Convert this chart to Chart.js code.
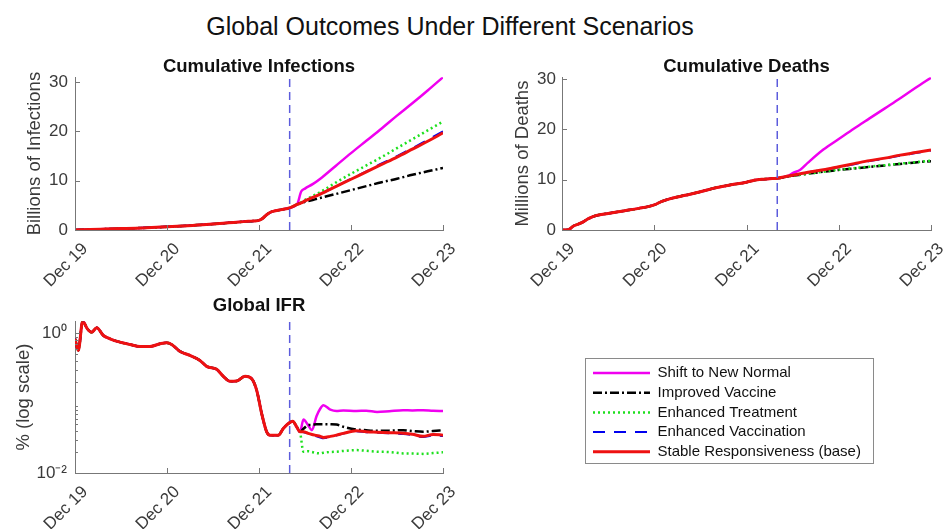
<!DOCTYPE html>
<html>
<head>
<meta charset="utf-8">
<title>Global Outcomes Under Different Scenarios</title>
<script src="https://cdn.jsdelivr.net/npm/chart.js@4.4.1/dist/chart.umd.min.js"></script>
<style>
  html, body { margin: 0; padding: 0; background: #ffffff; }
  body { width: 948px; height: 529px; position: relative; overflow: hidden;
         font-family: 'Liberation Sans', Arial, sans-serif; }
  #suptitle { position: absolute; left: 0; top: 14px; width: 900px; text-align: center;
              font-size: 25px; line-height: 25px; color: #111; }
  canvas { position: absolute; }
</style>
</head>
<body>
<div id="suptitle">Global Outcomes Under Different Scenarios</div>
<canvas id="infections" width="474" height="260" style="left:0;top:40px;width:474px;height:260px"></canvas>
<canvas id="deaths" width="468" height="260" style="left:480px;top:40px;width:468px;height:260px"></canvas>
<canvas id="ifr" width="474" height="249" style="left:0;top:280px;width:474px;height:249px"></canvas>
<canvas id="legend" width="290" height="130" style="left:585px;top:358px;width:290px;height:130px"></canvas>
<script>
// ---- time axis (months since Dec 2019) ----
const tickMonths = [0, 12, 24, 36, 48];
const tickLabels = ['Dec 19', 'Dec 20', 'Dec 21', 'Dec 22', 'Dec 23'];
const cutoverMonth = 28;

const scenarioNames = [
  'Shift to New Normal',
  'Improved Vaccine',
  'Enhanced Treatment',
  'Enhanced Vaccination',
  'Stable Responsiveness (base)'
];

// ---- cumulative infections (billions) ----
const infHistMonths = [0, 2, 4, 6, 8, 10, 12, 14, 16, 18, 20, 22, 23, 24, 24.5, 25, 25.5, 26, 26.5, 27, 27.5];
const infHist = [0, 0.08, 0.18, 0.28, 0.38, 0.5, 0.65, 0.8, 1.0, 1.2, 1.45, 1.7, 1.8, 1.95, 2.4, 3.1, 3.6, 3.85, 4.0, 4.15, 4.3];
const projMonths = [28, 29, 29.5, 30, 31, 32, 34, 36, 38, 40, 42, 44, 46, 48];
const infNewNormal = [4.5, 5.3, 7.8, 8.4, 9.3, 10.4, 13.0, 15.6, 18.1, 20.6, 23.2, 25.7, 28.3, 31.0];
const infImprovedVaccine = [4.5, 5.2, 5.5, 5.7, 6.1, 6.5, 7.3, 8.1, 8.9, 9.7, 10.4, 11.2, 11.9, 12.6];
const infEnhancedTreatment = [4.5, 5.2, 5.6, 6.1, 6.9, 7.7, 9.6, 11.4, 13.1, 14.8, 16.6, 18.4, 20.2, 22.0];
const infEnhancedVaccination = [4.5, 5.2, 5.5, 5.9, 6.6, 7.3, 8.8, 10.4, 11.9, 13.5, 15.0, 16.6, 18.3, 20.0];
const infBase = [4.5, 5.2, 5.5, 5.9, 6.6, 7.3, 8.8, 10.3, 11.8, 13.3, 14.8, 16.4, 18.0, 19.7];
const infYTicks = [0, 10, 20, 30];
const infYMax = 31;

// ---- cumulative deaths (millions) ----
const deathHistMonths = [0, 0.8, 1.5, 2.5, 3.5, 4.5, 6, 8, 10, 12, 13, 14, 16, 18, 20, 22, 24, 25, 26, 27];
const deathHist = [0, 0.05, 0.8, 1.4, 2.3, 2.9, 3.3, 3.8, 4.3, 5.0, 5.7, 6.2, 6.9, 7.6, 8.4, 9.0, 9.5, 9.9, 10.1, 10.2];
const deathNewNormal = [10.3, 10.6, 10.8, 11.3, 12.0, 13.4, 16.0, 18.1, 20.2, 22.2, 24.2, 26.2, 28.3, 30.3];
const deathImprovedVaccine = [10.3, 10.55, 10.7, 10.8, 11.0, 11.2, 11.6, 11.95, 12.25, 12.55, 12.85, 13.15, 13.45, 13.7];
const deathEnhancedTreatment = [10.3, 10.55, 10.7, 10.8, 11.0, 11.2, 11.6, 12.0, 12.3, 12.6, 12.9, 13.2, 13.5, 13.8];
const deathEnhancedVaccination = [10.3, 10.6, 10.75, 10.9, 11.2, 11.5, 12.0, 12.5, 13.1, 13.7, 14.2, 14.8, 15.3, 15.8];
const deathBase = [10.3, 10.6, 10.75, 10.9, 11.2, 11.5, 12.0, 12.6, 13.2, 13.8, 14.3, 14.9, 15.4, 15.9];
const deathYTicks = [0, 10, 20, 30];
const deathYMax = 30.4;

// ---- global IFR (%) ----
const ifrHistMonths = [0, 0.43, 1.0, 1.61, 2.17, 2.83, 3.7, 4.57, 5.87, 7.17, 8.48, 9.78, 11.09, 11.96, 12.61,
  13.7, 15.0, 16.3, 17.17, 18.48, 19.35, 20.22, 21.09, 22.17, 23.04, 23.7, 24.35, 25.0, 25.43, 26.52, 27.17,
  27.83, 28.39, 28.91];
const ifrHist = [0.839, 0.572, 1.5, 1.166, 1.04, 1.21, 0.936, 0.839, 0.751, 0.696, 0.652, 0.652, 0.711, 0.736, 0.696,
  0.553, 0.485, 0.411, 0.338, 0.306, 0.243, 0.206, 0.208, 0.243, 0.225, 0.153, 0.0711, 0.0389, 0.0349, 0.0349, 0.0435,
  0.0513, 0.0553, 0.0459];
const ifrProjMonths = [29.35, 29.8, 30.4, 30.9, 31.5, 32.0, 32.4, 33.3, 34.1, 35.0, 36.7, 38.0, 39.4, 41.0, 42.8, 44.0, 45.4, 46.7, 48.0];
const ifrNewNormal = [0.0389, 0.0585, 0.0485, 0.0411, 0.065, 0.084, 0.0936, 0.0812, 0.0776, 0.0785, 0.0776, 0.078, 0.0751, 0.077, 0.0794, 0.079, 0.0794, 0.078, 0.0776];
const ifrImprovedVaccine = [0.0389, 0.043, 0.0485, 0.049, 0.05, 0.0501, 0.0501, 0.05, 0.0495, 0.046, 0.0421, 0.041, 0.0403, 0.0405, 0.0411, 0.04, 0.039, 0.04, 0.0411];
const ifrEnhancedTreatment = [0.0389, 0.0202, 0.0205, 0.02, 0.0193, 0.0191, 0.0195, 0.02, 0.0202, 0.0207, 0.0213, 0.0208, 0.0202, 0.02, 0.0191, 0.019, 0.0188, 0.0193, 0.0198];
const ifrEnhancedVaccination = [0.0389, 0.0385, 0.0365, 0.035, 0.0335, 0.0322, 0.0315, 0.0328, 0.0345, 0.0368, 0.0398, 0.0385, 0.0378, 0.037, 0.0362, 0.035, 0.0328, 0.0345, 0.0338];
const ifrBase = [0.0389, 0.0389, 0.037, 0.0357, 0.0345, 0.0335, 0.0324, 0.0335, 0.0349, 0.037, 0.0403, 0.039, 0.0384, 0.0378, 0.0372, 0.036, 0.0335, 0.0357, 0.0349];
const ifrYTicks = [0.01, 1];
const ifrYTickLabels = ['10\u207B\u00B2', '10\u2070'];
const ifrMinorTicks = [0.02, 0.03, 0.04, 0.05, 0.06, 0.07, 0.08, 0.09, 0.2, 0.3, 0.4, 0.5, 0.6, 0.7, 0.8, 0.9];
const ifrYMin = 0.01;
const ifrYMax = 1.5;

// ---- appearance ----
const FONT = "'Liberation Sans', Arial, sans-serif";
const TICK_COLOR = '#3a3a3a';
const AXIS_COLOR = '#777777';
const TITLE_COLOR = '#111111';

const lineStyles = [
  { borderColor: '#f000f0', borderWidth: 2.5, borderDash: [] },
  { borderColor: '#000000', borderWidth: 2.5, borderDash: [9, 3, 2, 3] },
  { borderColor: '#1ee01e', borderWidth: 2.5, borderDash: [2, 3] },
  { borderColor: '#0000ee', borderWidth: 2, borderDash: [12, 9] },
  { borderColor: '#ee1111', borderWidth: 3, borderDash: [] }
];

function points(months, values) {
  return months.map((m, i) => ({ x: m, y: values[i] }));
}

function scenarioDatasets(histMonths, hist, futureMonths, futures) {
  return scenarioNames.map((name, i) => Object.assign({
    label: name,
    data: points(histMonths.concat(futureMonths), hist.concat(futures[i])),
    pointRadius: 0,
    fill: false,
    cubicInterpolationMode: 'monotone',
    borderCapStyle: 'butt',
    borderJoinStyle: 'round',
    order: scenarioNames.length - i   // base scenario ends up drawn last, on top
  }, lineStyles[i]));
}

function cutoverLine(yLow, yHigh) {
  return {
    label: 'cutover',
    data: [{ x: cutoverMonth, y: yLow }, { x: cutoverMonth, y: yHigh }],
    borderColor: '#5c5cdc',
    borderWidth: 1.5,
    borderDash: [8, 5],
    pointRadius: 0,
    fill: false,
    order: 0
  };
}

// short inward tick marks along both axes
const axisTicks = {
  id: 'axisTicks',
  afterDraw(chart, args, opts) {
    const { ctx, chartArea: a } = chart;
    const xs = chart.scales.x, ys = chart.scales.y;
    ctx.save();
    ctx.strokeStyle = opts.color;
    ctx.lineWidth = 1;
    ctx.beginPath();
    xs.ticks.forEach(t => {
      const px = Math.round(xs.getPixelForValue(t.value)) + 0.5;
      ctx.moveTo(px, a.bottom);
      ctx.lineTo(px, a.bottom - opts.length);
    });
    ys.ticks.forEach(t => {
      const py = Math.round(ys.getPixelForValue(t.value)) + 0.5;
      ctx.moveTo(a.left, py);
      ctx.lineTo(a.left + opts.length, py);
    });
    (opts.minor || []).forEach(v => {
      const py = Math.round(ys.getPixelForValue(v)) + 0.5;
      ctx.moveTo(a.left, py);
      ctx.lineTo(a.left + opts.minorLength, py);
    });
    ctx.stroke();
    ctx.restore();
  }
};

function monthAxis(height) {
  return {
    type: 'linear',
    min: 0,
    max: 48,
    afterBuildTicks: s => { s.ticks = tickMonths.map(v => ({ value: v })); },
    afterFit: s => {
      s.height = height;
      // rotated labels may overhang; keep the plot width fixed
      s.paddingLeft = 0;
      s.paddingRight = 0;
    },
    ticks: {
      callback: (v, i) => tickLabels[i],
      minRotation: 45, maxRotation: 45, autoSkip: false, padding: 9, labelOffset: 10,
      font: { family: FONT, size: 17 }, color: TICK_COLOR
    },
    grid: { display: false, drawTicks: false },
    border: { display: true, color: AXIS_COLOR, width: 1 }
  };
}

function valueAxis(opts) {
  return {
    type: opts.type || 'linear',
    min: opts.min,
    max: opts.max,
    afterBuildTicks: s => { s.ticks = opts.ticks.map(v => ({ value: v })); },
    afterFit: s => { s.width = opts.width; },
    ticks: {
      callback: opts.labels ? (v, i) => opts.labels[i] : (v) => String(v),
      padding: opts.tickPad,
      font: { family: FONT, size: 17 }, color: TICK_COLOR
    },
    title: {
      display: true, text: opts.title, color: TICK_COLOR,
      font: { family: FONT, size: 18.5 },
      padding: { top: opts.titlePad, bottom: 0 }
    },
    grid: { display: false, drawTicks: false },
    border: { display: true, color: AXIS_COLOR, width: 1 }
  };
}

function panel(canvasId, cfg) {
  return new Chart(document.getElementById(canvasId), {
    type: 'line',
    data: { datasets: cfg.datasets },
    options: {
      responsive: false,
      animation: false,
      devicePixelRatio: 1,
      layout: { padding: cfg.padding },
      scales: { x: monthAxis(cfg.xHeight), y: valueAxis(cfg.y) },
      plugins: {
        legend: { display: false },
        tooltip: { enabled: false },
        title: {
          display: true, text: cfg.title, fullSize: false, color: TITLE_COLOR,
          font: { family: FONT, size: 18.5, weight: 'bold' },
          padding: cfg.titlePad
        },
        axisTicks: { color: AXIS_COLOR, length: 5, minor: cfg.minor || [], minorLength: 3 }
      }
    },
    plugins: [axisTicks]
  });
}

panel('infections', {
  title: 'Cumulative Infections',
  titlePad: { top: 16, bottom: -1 },
  padding: { left: 0, right: 31, top: 0, bottom: 0 },
  xHeight: 70,
  y: { min: 0, max: infYMax, ticks: infYTicks, width: 75, tickPad: 7, title: 'Billions of Infections', titlePad: 24 },
  datasets: scenarioDatasets(infHistMonths, infHist, projMonths,
    [infNewNormal, infImprovedVaccine, infEnhancedTreatment, infEnhancedVaccination, infBase])
    .concat([cutoverLine(0, infYMax)])
});

panel('deaths', {
  title: 'Cumulative Deaths',
  titlePad: { top: 16, bottom: -1 },
  padding: { left: 0, right: 17, top: 0, bottom: 0 },
  xHeight: 70,
  y: { min: 0, max: deathYMax, ticks: deathYTicks, width: 82, tickPad: 6, title: 'Millions of Deaths', titlePad: 32 },
  datasets: scenarioDatasets(deathHistMonths, deathHist, projMonths,
    [deathNewNormal, deathImprovedVaccine, deathEnhancedTreatment, deathEnhancedVaccination, deathBase])
    .concat([cutoverLine(0, deathYMax)])
});

panel('ifr', {
  title: 'Global IFR',
  titlePad: { top: 15, bottom: 4 },
  padding: { left: 0, right: 31, top: 0, bottom: 0 },
  xHeight: 56,
  minor: ifrMinorTicks,
  y: { type: 'logarithmic', min: ifrYMin, max: ifrYMax, ticks: ifrYTicks, labels: ifrYTickLabels,
       width: 75, tickPad: 8, title: '% (log scale)', titlePad: 13 },
  datasets: scenarioDatasets(ifrHistMonths, ifrHist, ifrProjMonths,
    [ifrNewNormal, ifrImprovedVaccine, ifrEnhancedTreatment, ifrEnhancedVaccination, ifrBase])
    .concat([cutoverLine(ifrYMin, ifrYMax)])
});

// legend panel with a thin frame
const legendFrame = {
  id: 'legendFrame',
  afterDraw(chart, args, opts) {
    const ctx = chart.ctx;
    ctx.save();
    ctx.strokeStyle = opts.color;
    ctx.lineWidth = 1;
    ctx.strokeRect(0.5, 0.5, opts.width, opts.height);
    ctx.restore();
  }
};

new Chart(document.getElementById('legend'), {
  type: 'line',
  data: {
    datasets: scenarioNames.map((name, i) => Object.assign({ label: name, data: [], pointRadius: 0 }, lineStyles[i]))
  },
  options: {
    responsive: false,
    animation: false,
    devicePixelRatio: 1,
    events: [],
    layout: { padding: { left: 3.3, top: 2.8, right: 0, bottom: 0 } },
    scales: { x: { display: false }, y: { display: false } },
    plugins: {
      tooltip: { enabled: false },
      title: { display: false },
      legend: {
        display: true,
        position: 'top',
        align: 'start',
        maxHeight: 200,
        labels: {
          usePointStyle: true,
          pointStyle: 'line',
          pointStyleWidth: 57,
          padding: 4.7,
          color: '#111',
          font: { family: FONT, size: 15 },
          generateLabels(chart) {
            const items = Chart.defaults.plugins.legend.labels.generateLabels(chart);
            items.forEach(it => {
              const ds = chart.data.datasets[it.datasetIndex];
              it.lineDash = ds.borderDash || [];
              it.lineWidth = ds.borderWidth;
              it.strokeStyle = ds.borderColor;
              it.fillStyle = ds.borderColor;
              it.pointStyle = 'line';
            });
            return items;
          }
        }
      },
      legendFrame: { color: '#8a8a8a', width: 288, height: 105 }
    }
  },
  plugins: [legendFrame]
});
</script>
</body>
</html>
